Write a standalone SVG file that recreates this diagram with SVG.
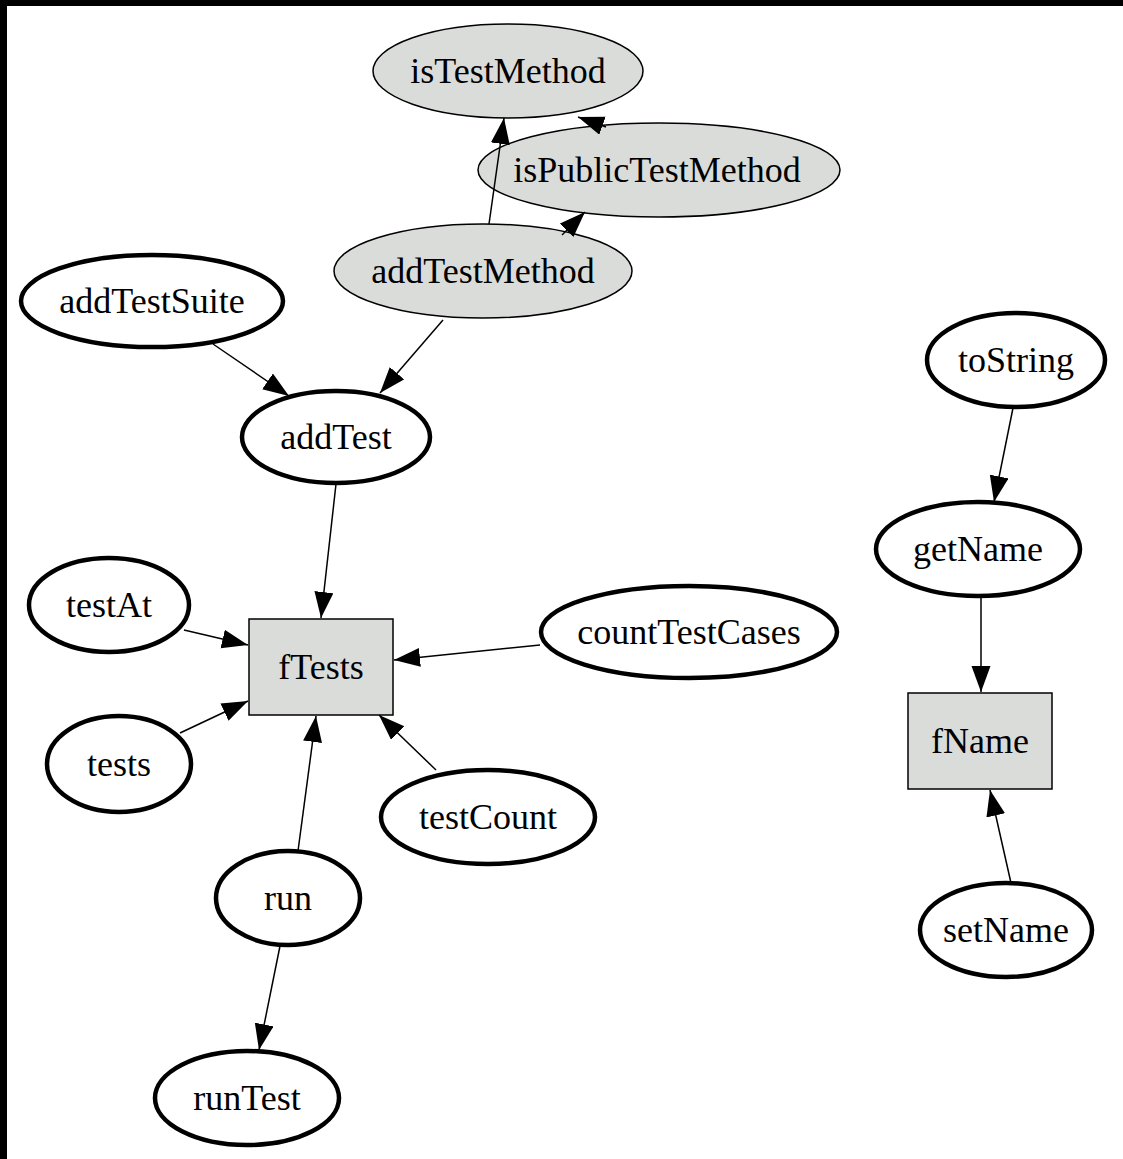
<svg xmlns="http://www.w3.org/2000/svg" width="1123" height="1159" viewBox="0 0 1123 1159">
<style>
.bg{fill:#ffffff}
.g{fill:#dadcda;stroke:#000;stroke-width:1.5}
.w{fill:#ffffff;stroke:#000;stroke-width:4.5}
.t{font-family:"Liberation Serif","Times New Roman",serif;font-size:36px;fill:#000;text-anchor:middle}
.e{fill:none;stroke:#000;stroke-width:1.5;marker-end:url(#ah)}
</style>
<defs>
<marker id="ah" markerUnits="userSpaceOnUse" markerWidth="27" markerHeight="20" refX="26" refY="9.5" orient="auto">
<path d="M0,0 L26,9.5 L0,19 z" fill="#000"/>
</marker>
</defs>
<rect class="bg" x="0" y="0" width="1123" height="1159"/>
<rect x="0" y="0" width="1123" height="6" fill="#000"/>
<rect x="0" y="0" width="7" height="1159" fill="#000"/>

<g id="nodes">
<g id="isTestMethod"><ellipse class="g" cx="508" cy="71" rx="135" ry="47"/><text class="t" x="508" y="83">isTestMethod</text></g>
<g id="isPublicTestMethod"><ellipse class="g" cx="659" cy="170" rx="181" ry="47"/><text class="t" x="657" y="182">isPublicTestMethod</text></g>
<g id="addTestMethod"><ellipse class="g" cx="483" cy="271" rx="149" ry="47"/><text class="t" x="483" y="283">addTestMethod</text></g>
<g id="addTestSuite"><ellipse class="w" cx="152" cy="301" rx="131" ry="46"/><text class="t" x="152" y="313">addTestSuite</text></g>
<g id="addTest"><ellipse class="w" cx="336" cy="437" rx="94" ry="46"/><text class="t" x="336" y="449">addTest</text></g>
<g id="testAt"><ellipse class="w" cx="109" cy="605" rx="80" ry="47"/><text class="t" x="109" y="617">testAt</text></g>
<g id="fTests"><rect class="g" x="249" y="619" width="144" height="96"/><text class="t" x="321" y="679">fTests</text></g>
<g id="countTestCases"><ellipse class="w" cx="689" cy="632" rx="148" ry="46"/><text class="t" x="689" y="644">countTestCases</text></g>
<g id="tests"><ellipse class="w" cx="119" cy="764" rx="72" ry="48"/><text class="t" x="119" y="776">tests</text></g>
<g id="testCount"><ellipse class="w" cx="488" cy="817" rx="107" ry="47"/><text class="t" x="488" y="829">testCount</text></g>
<g id="run"><ellipse class="w" cx="288" cy="898" rx="72" ry="47"/><text class="t" x="288" y="910">run</text></g>
<g id="runTest"><ellipse class="w" cx="247" cy="1098" rx="92" ry="47"/><text class="t" x="247" y="1110">runTest</text></g>
<g id="toString"><ellipse class="w" cx="1016" cy="360" rx="89" ry="47"/><text class="t" x="1016" y="372">toString</text></g>
<g id="getName"><ellipse class="w" cx="978" cy="549" rx="102" ry="47"/><text class="t" x="978" y="561">getName</text></g>
<g id="fName"><rect class="g" x="908" y="693" width="144" height="96"/><text class="t" x="980" y="753">fName</text></g>
<g id="setName"><ellipse class="w" cx="1006" cy="930" rx="86" ry="47"/><text class="t" x="1006" y="942">setName</text></g>
</g>

<g id="connectors">
<line class="e" x1="489" y1="224" x2="504" y2="118"/>
<line class="e" x1="606" y1="127" x2="578" y2="117"/>
<line class="e" x1="562" y1="235" x2="585" y2="212"/>
<line class="e" x1="213" y1="344" x2="289" y2="396"/>
<line class="e" x1="443" y1="320" x2="380" y2="393"/>
<line class="e" x1="336" y1="484" x2="321" y2="618"/>
<line class="e" x1="184" y1="630" x2="248" y2="645"/>
<line class="e" x1="180" y1="733" x2="248" y2="701"/>
<line class="e" x1="540" y1="645" x2="394" y2="660"/>
<line class="e" x1="436" y1="770" x2="379" y2="715"/>
<line class="e" x1="298" y1="851" x2="316" y2="716"/>
<line class="e" x1="280" y1="946" x2="259" y2="1050"/>
<line class="e" x1="1013" y1="408" x2="994" y2="502"/>
<line class="e" x1="981" y1="597" x2="981" y2="692"/>
<line class="e" x1="1011" y1="883" x2="990" y2="790"/>
</g>
</svg>
